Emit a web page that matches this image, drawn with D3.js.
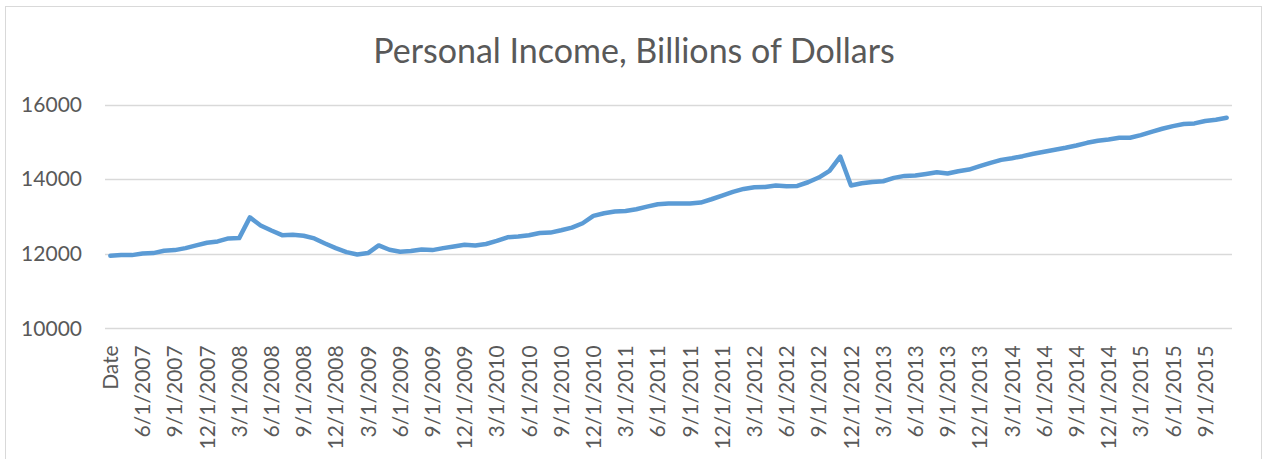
<!DOCTYPE html>
<html>
<head>
<meta charset="utf-8">
<script src="https://cdn.jsdelivr.net/npm/d3@7"></script>
<style>
  body { margin: 0; background: #fff; }
  text { font-family: Lato, "Open Sans", sans-serif; fill: #595959; }
</style>
</head>
<body>
<svg id="chart" width="1267" height="459"></svg>
<script>
// categories: header row "Date" then monthly dates 4/1/2007 .. 11/1/2015
const months = []
for (let y = 2007; y <= 2015; y++) {
  for (let m = 1; m <= 12; m++) {
    if (y === 2007 && m < 4) continue
    if (y === 2015 && m > 11) continue
    months.push(`${m}/1/${y}`)
  }
}
const categories = ['Date', ...months]

// personal income, billions of dollars
const income = [
  11946, 11964, 11964, 12009, 12018, 12080, 12098, 12152, 12224, 12295,
  12331, 12412, 12420, 12976, 12760, 12626, 12500, 12510, 12483, 12412,
  12277, 12152, 12045, 11982, 12018, 12224, 12107, 12054, 12072, 12116,
  12098, 12152, 12197, 12242, 12224, 12262, 12344, 12443, 12461, 12496,
  12559, 12568, 12631, 12702, 12819, 13016, 13087, 13132, 13150, 13195,
  13266, 13329, 13347, 13347, 13347, 13374, 13463, 13561, 13660, 13740,
  13785, 13794, 13830, 13812, 13821, 13919, 14045, 14224, 14609, 13830,
  13893, 13928, 13946, 14036, 14090, 14099, 14143, 14188, 14152, 14215,
  14260, 14350, 14440, 14520, 14565, 14619, 14682, 14736, 14789, 14843,
  14906, 14977, 15031, 15067, 15112, 15112, 15184, 15273, 15355, 15426,
  15480, 15498, 15561, 15597, 15650
]

const yTicks = [10000, 12000, 14000, 16000]
const title = 'Personal Income, Billions of Dollars'

const data = categories.map((c, i) => ({ date: c, value: income[i] }))

const svg = d3.select('#chart')

const plot = { left: 105, right: 1232, top: 104.7, bottom: 328.3 }

// chart area border
svg.append('rect')
  .attr('x', 5.5)
  .attr('y', 6.5)
  .attr('width', 1256)
  .attr('height', 470)
  .attr('fill', 'none')
  .attr('stroke', '#d9d9d9')

svg.append('text')
  .attr('x', 634)
  .attr('y', 63)
  .attr('text-anchor', 'middle')
  .style('font-size', '34px')
  .text(title)

const xScale = d3.scaleBand()
  .domain(categories)
  .range([plot.left, plot.right])
  .padding(0)

const yScale = d3.scaleLinear()
  .domain([10000, 16000])
  .range([plot.bottom, plot.top])

// gridlines
svg.append('g')
  .selectAll('line')
  .data(yTicks)
  .join('line')
  .attr('x1', plot.left)
  .attr('x2', plot.right)
  .attr('y1', d => Math.round(yScale(d)) + 0.5)
  .attr('y2', d => Math.round(yScale(d)) + 0.5)
  .attr('stroke', '#d9d9d9')
  .attr('stroke-width', 1.3)

const yAxis = d3.axisLeft(yScale)
  .tickValues(yTicks)
  .tickSize(0)
  .tickPadding(23)
  .tickFormat(d3.format('d'))

svg.append('g')
  .attr('transform', `translate(${plot.left}, 0)`)
  .call(yAxis)
  .call(g => g.select('.domain').remove())
  .selectAll('text')
  .style('font-size', '21px')
  .style('font-family', 'Lato, sans-serif')
  .attr('fill', '#595959')

const xAxis = d3.axisBottom(xScale)
  .tickValues(categories.filter((d, i) => i % 3 === 0))
  .tickSize(0)
  .tickPadding(0)

svg.append('g')
  .attr('transform', `translate(0, ${plot.bottom})`)
  .call(xAxis)
  .call(g => g.select('.domain').remove())
  .selectAll('text')
  .style('font-size', '21px')
  .style('font-family', 'Lato, sans-serif')
  .attr('fill', '#595959')
  .attr('text-anchor', 'end')
  .attr('transform', 'rotate(-90)')
  .attr('x', -17)
  .attr('y', 0)
  .attr('dy', '0.36em')

const line = d3.line()
  .x(d => xScale(d.date) + xScale.bandwidth() / 2)
  .y(d => yScale(d.value))

svg.append('path')
  .datum(data)
  .attr('fill', 'none')
  .attr('stroke', '#5b9bd5')
  .attr('stroke-width', 4.5)
  .attr('stroke-linejoin', 'round')
  .attr('stroke-linecap', 'round')
  .attr('d', line)
</script>
</body>
</html>
